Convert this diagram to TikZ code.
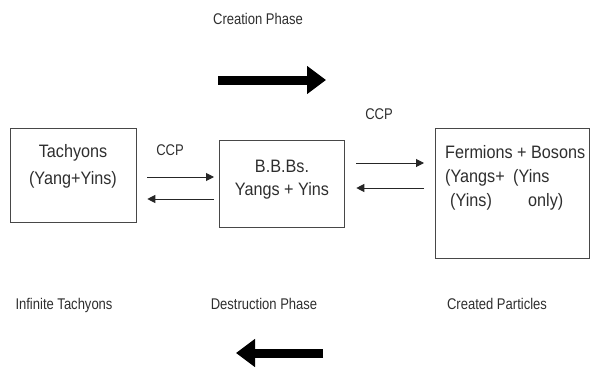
\documentclass[tikz,border=0pt]{standalone}
\usepackage{fontspec}
\setmainfont{Liberation Sans}[FakeStretch=0.84]
\newfontfamily\boxfont{Liberation Sans}[FakeStretch=0.9]
\usetikzlibrary{arrows.meta}
\tikzset{
  box/.style={draw=black!72, line width=1.3pt, inner sep=0pt, anchor=north west},
  lbl/.style={anchor=base, inner sep=0pt, text=black!82, font=\fontsize{15.5}{18}\selectfont},
  btxt/.style={anchor=base, inner sep=0pt, text=black!82, font=\boxfont\fontsize{18}{21}\selectfont},
  btxtl/.style={btxt, anchor=base west},
  thinarr/.style={draw=black!85, line width=1pt, -{Triangle[length=8pt,width=8pt]}},
  bigarr/.style={draw=black, line width=9pt, -{Triangle[length=19pt,width=27pt]}}
}
\begin{document}
\begin{tikzpicture}[x=1pt,y=-1pt]
\useasboundingbox (0,0) rectangle (592,367);
% boxes
\node[box, minimum width=126pt, minimum height=94pt] (t) at (10,128) {};
\node[box, minimum width=125pt, minimum height=87pt] (b) at (219,140) {};
\node[box, minimum width=154pt, minimum height=130pt] (f) at (435,128) {};
% box texts
\node[btxt] (t1) at (73,157) {Tachyons};
\node[btxt] (t2) at (73,184) {(Yang+Yins)};
\node[btxt] (b1) at (282,172) {B.B.Bs.};
\node[btxt] (b2) at (282,195) {Yangs + Yins};
\node[btxtl] (f1) at (445,158) {Fermions + Bosons};
\node[btxtl] (f2) at (445,182) {(Yangs+};
\node[btxtl] (f3) at (513,182) {(Yins};
\node[btxtl] (f4) at (450,206) {(Yins)};
\node[btxtl] (f5) at (528,206) {only)};
% thin arrows
\draw[thinarr, shorten <=10pt, shorten >=5pt] (t.east |- 0,177) -- (b.west |- 0,177);
\draw[thinarr, shorten <=5pt, shorten >=10pt] (b.west |- 0,199) -- (t.east |- 0,199);
\draw[thinarr, shorten <=11pt, shorten >=11pt] (b.east |- 0,163) -- (f.west |- 0,163);
\draw[thinarr, shorten <=11pt, shorten >=11pt] (f.west |- 0,188) -- (b.east |- 0,188);
% labels
\node[lbl] (ccp1) at (170,155) {CCP};
\node[lbl] (ccp2) at (379,119) {CCP};
\node[lbl] (cp) at (258,24) {Creation Phase};
\node[lbl] (it) at (64,309) {Infinite Tachyons};
\node[lbl] (dp) at (264,309) {Destruction Phase};
\node[lbl] (cpa) at (497,309) {Created Particles};
% big arrows
\coordinate (ca) at (218,80);
\coordinate (cb) at (326,80);
\coordinate (da) at (323,353);
\coordinate (db) at (236,353);
\draw[bigarr] (ca) -- (cb);
\draw[bigarr] (da) -- (db);
\end{tikzpicture}
\end{document}
